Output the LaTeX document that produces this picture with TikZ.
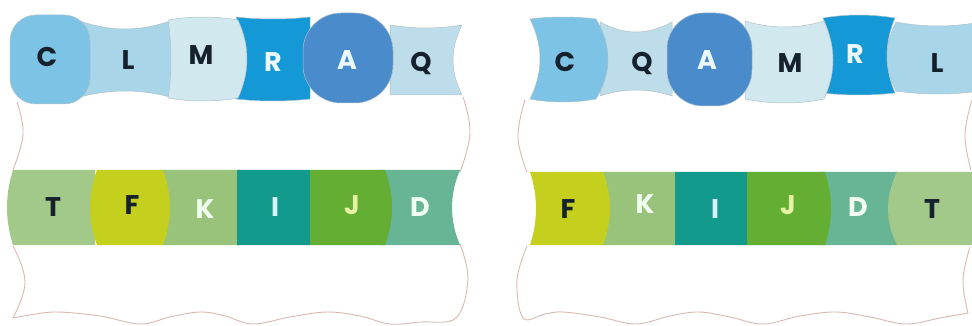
\documentclass[tikz,border=0pt]{standalone}
\usepackage{fontspec}
\setmainfont{Poppins}
\definecolor{rim}{HTML}{D8B8B0}
\definecolor{seam}{HTML}{AFC0C8}
\definecolor{bC}{HTML}{7CC3E6}
\definecolor{bL}{HTML}{A9D5E9}
\definecolor{bM}{HTML}{D2E8EF}
\definecolor{bR}{HTML}{1499D6}
\definecolor{bA}{HTML}{4A8BCB}
\definecolor{bQ}{HTML}{BCDDE9}
\definecolor{gT}{HTML}{A3C98A}
\definecolor{gF}{HTML}{C5CF1E}
\definecolor{gK}{HTML}{99C27A}
\definecolor{gI}{HTML}{129B8D}
\definecolor{gJ}{HTML}{63AE33}
\definecolor{gD}{HTML}{67B595}
\definecolor{ink}{HTML}{16212E}
% bead: x1, x2, y top, y bottom, left/right/top/bottom bulge, style
\newcommand{\bead}[9]{%
  \pgfmathsetmacro{\bw}{(#2-#1)/3}%
  \pgfmathsetmacro{\bh}{(#4-#3)/3}%
  \path[#9] (#1,#3)
    .. controls ({#1+\bw},{#3-4/3*#7}) and ({#2-\bw},{#3-4/3*#7}) .. (#2,#3)
    .. controls ({#2+4/3*#6},{#3+\bh}) and ({#2+4/3*#6},{#4-\bh}) .. (#2,#4)
    .. controls ({#2-\bw},{#4+4/3*#8}) and ({#1+\bw},{#4+4/3*#8}) .. (#1,#4)
    .. controls ({#1-4/3*#5},{#4-\bh}) and ({#1-4/3*#5},{#3+\bh}) .. cycle;}
\begin{document}
\begin{tikzpicture}[x=1pt,y=-1pt,
    edge/.style={draw=rim,line width=0.9pt},
    top/.style={draw=seam,line width=0.5pt},
    letter/.style={font=\fontsize{27}{27}\selectfont\bfseries,inner sep=0pt},
    dark/.style={letter,text=ink},
    pale/.style={letter,text=#1},
    pale/.default=white]
\useasboundingbox (0,0) rectangle (972,326);
\clip (0,0) rectangle (972,326);

% Left card outline
\draw[edge] plot[smooth,tension=0.7] coordinates {(463,97) (470,133) (460,172)};
\draw[edge] plot[smooth,tension=0.6] coordinates {(460,244) (468,279) (456,318)
  (420,322) (390,324) (360,316) (327,312) (290,317) (253,324) (225,316) (200,312)
  (170,317) (140,324) (100,316) (57,312) (30,315) (13,318)};
\draw[edge] plot[smooth,tension=0.7] coordinates {(13,318) (25,282) (13,246)};
\draw[edge] plot[smooth,tension=0.7] coordinates {(13,170) (23,134) (17,102)};

% Right card outline
\draw[edge] plot[smooth,tension=0.7] coordinates {(525,100) (518,137) (527,172)};
\draw[edge] plot[smooth,tension=0.6] coordinates {(527,246) (517,280) (523,318)
  (545,314) (563,312) (600,317) (636,324) (670,316) (699,312) (730,317) (763,324)
  (800,316) (836,312) (870,317) (906,324) (940,318) (968,313)};
\draw[edge] plot[smooth,tension=0.7] coordinates {(968,313) (963,280) (970,247)};
\draw[edge] plot[smooth,tension=0.7] coordinates {(971,170) (965,135) (972,100)};

% Left top strip
\bead{390}{462}{25}{95}{0}{-9}{-3}{0}{top,fill=bQ}
\bead{236}{310}{17}{99}{-8}{0}{-2}{2}{top,fill=bR}
\bead{80}{170}{21}{97}{0}{3}{-8}{-6}{top,fill=bL}
\bead{168}{238}{20}{98}{-3}{9}{3}{3}{top,fill=bM}
\path[top,fill=bA,rounded corners=38pt] (303,13) rectangle (393,103);
\path[top,fill=bC,rounded corners=26pt] (10,15) rectangle (90,104);

% Left bottom strip
\bead{13}{95}{170}{245}{6}{0}{0}{0}{fill=gT}
\bead{160}{240}{170}{245}{0}{0}{0}{0}{fill=gK}
\bead{380}{460}{170}{245}{0}{-8}{0}{0}{fill=gD}
\bead{237}{310}{170}{245}{0}{0}{0}{0}{fill=gI}
\bead{97}{163}{170}{245}{7}{7}{0}{0}{fill=gF}
\bead{310}{385}{170}{245}{0}{7}{0}{0}{fill=gJ}

% Right top strip
\bead{600}{672}{22}{96}{0}{0}{-10}{-6}{top,fill=bQ}
\bead{823}{895}{18}{93}{-8}{-8}{3}{2}{top,fill=bR}
\bead{745}{824}{21}{99}{0}{9}{-6}{4}{top,fill=bM}
\bead{896}{980}{22}{91}{9}{0}{-4}{3}{top,fill=bL}
\bead{530}{596}{19}{99}{-10}{12}{2}{3}{top,fill=bC}
\path[top,fill=bA,rounded corners=36pt] (667,13) rectangle (752,106);

% Right bottom strip
\bead{600}{676}{172}{245}{0}{0}{0}{0}{fill=gK}
\bead{675}{747}{172}{245}{0}{0}{0}{0}{fill=gI}
\bead{820}{897}{172}{245}{0}{0}{0}{0}{fill=gD}
\bead{530}{603}{172}{245}{-6}{7}{0}{0}{fill=gF}
\bead{747}{825}{172}{245}{0}{6}{0}{0}{fill=gJ}
\bead{897}{980}{172}{245}{9}{0}{0}{0}{fill=gT}

% Letters, left card
\node[dark] (lc) at (47,57) {C};
\node[dark] (ll) at (128,60) {L};
\node[dark] (lm) at (201,55) {M};
\node[pale=white!92!cyan] (lr) at (273,62) {R};
\node[pale=white!92!cyan] (la) at (347,60) {A};
\node[dark] (lq) at (421,64) {Q};
\node[dark] (lt) at (53,207) {T};
\node[dark] (lf) at (132,205) {F};
\node[pale=white!94!green] (lk) at (205,209) {K};
\node[pale=white!85!cyan] (li) at (275,207) {I};
\node[pale=white!70!yellow!90!green] (lj) at (352,205) {J};
\node[pale=white!94!green] (ld) at (420,207) {D};

% Letters, right card
\node[dark] (rc) at (565,62) {C};
\node[dark] (rq) at (642,64) {Q};
\node[pale=white!92!cyan] (ra) at (707,60) {A};
\node[dark] (rm) at (790,63) {M};
\node[pale=white!92!cyan] (rr) at (855,54) {R};
\node[dark] (rl) at (937,63) {L};
\node[dark] (rf) at (568,209) {F};
\node[pale=white!94!green] (rk) at (645,204) {K};
\node[pale=white!85!cyan] (ri) at (715,209) {I};
\node[pale=white!70!yellow!90!green] (rj) at (788,205) {J};
\node[pale=white!94!green] (rd) at (858,207) {D};
\node[dark] (rt) at (932,209) {T};
\end{tikzpicture}
\end{document}
